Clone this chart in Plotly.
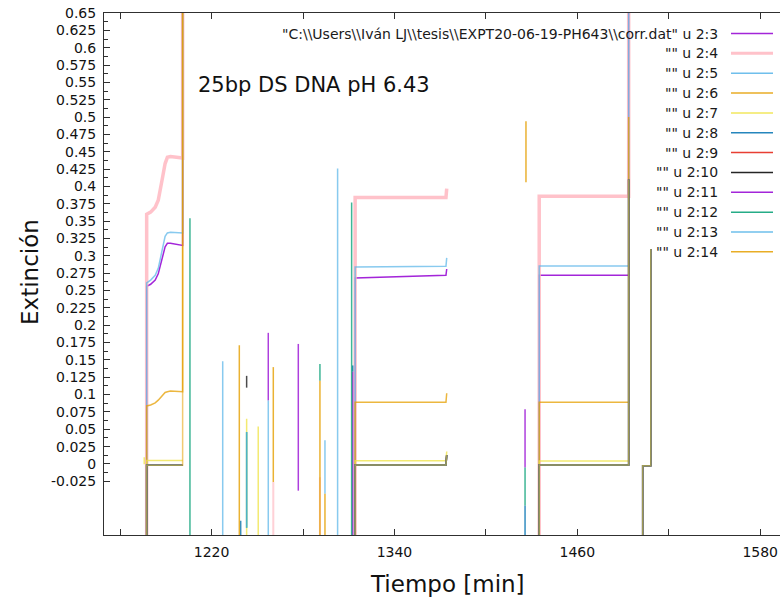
import plotly.graph_objects as go

# ---------------- data ----------------
SERIES = ["2:3", "2:4", "2:5", "2:6", "2:7", "2:8", "2:9", "2:10", "2:11", "2:12", "2:13", "2:14"]
COLORS = ["#9400d3", "#ffb3bd", "#56b4e9", "#e69f00", "#f0e442", "#0072b2",
          "#e51e10", "#000000", "#9400d3", "#009e73", "#56b4e9", "#e69f00"]
LEGEND_FILE = '"C:\\\\Users\\\\Iván LJ\\\\tesis\\\\EXPT20-06-19-PH643\\\\corr.dat" u '

OFF_LOW = -1.0   # values far below the visible range

# block 1 (first measuring window)
T_B1 = [1177.4, 1180.0, 1183.0, 1185.0, 1186.5, 1188.0, 1189.5, 1191.0, 1193.0, 1201.0]
B1_S3 = [0.256, 0.259, 0.265, 0.274, 0.288, 0.303, 0.313, 0.318, 0.318, 0.315]
B1_S4 = [0.360, 0.363, 0.370, 0.380, 0.395, 0.415, 0.433, 0.442, 0.443, 0.441]
B1_S5 = [0.261, 0.265, 0.272, 0.282, 0.298, 0.316, 0.328, 0.333, 0.334, 0.333]
B1_S6 = [0.0836, 0.085, 0.088, 0.092, 0.096, 0.100, 0.103, 0.104, 0.105, 0.104]
B1_REST = [0.005, -0.002, -0.002, -0.002, -0.002, -0.002, -0.002, -0.002]  # 2:7 .. 2:14
B1_JUMP = [1.0, 1.0, 1.0, 1.0, None, None, None, None, None, None, None, 1.0]

# block 2
T_B2 = [1314.2, 1373.8, 1374.3]
B2_START = [0.268, 0.384, 0.284, 0.089, 0.0048] + [-0.0014] * 7
B2_END = [0.272, 0.384, 0.285, 0.089, 0.0048] + [-0.0014] * 7
B2_TICK = [0.281, 0.397, 0.297, 0.102, 0.018] + [0.013] * 7

# block 3
T_B3 = [1435.0, 1493.7]
B3_LEVEL = [0.272, 0.386, 0.2855, 0.089, 0.0043] + [-0.0014] * 7
B3_JUMP = [1.0, 1.0, 1.0, 0.50] + [0.41] * 8

# tail after block 3 (series 2:8 .. 2:14)
T_TAIL = [1502.9, 1508.2]
TAIL_BASE = -0.0025
TAIL_TOP = 0.31

# isolated spikes: series, time, low value, high value
SPIKE_SERIES = ["2:7", "2:12", "2:13", "2:8", "2:14", "2:7", "2:12", "2:13", "2:10",
                "2:7", "2:13", "2:11", "2:4", "2:14", "2:11", "2:4", "2:14", "2:12",
                "2:14", "2:13", "2:13", "2:12", "2:11", "2:8", "2:11", "2:12",
                "2:8", "2:14"]
SPIKE_T = [1175.8, 1205.8, 1227.3, 1239.1, 1238.2, 1243.0, 1243.0, 1243.0, 1243.0,
           1250.6, 1257.2, 1257.2, 1260.5, 1260.5, 1276.9, 1291.1, 1291.1, 1291.1,
           1294.4, 1294.4, 1302.7, 1311.9, 1312.6, 1312.6, 1425.7, 1425.7,
           1425.7, 1426.3]
SPIKE_LO = [-0.0006, -1.0, -1.0, -1.0, -1.0, -1.0, -0.092, -0.092, 0.110,
            -1.0, -1.0, 0.0915, -1.0, -0.026, -0.0385, -1.0, -1.0, 0.120,
            -1.0, -0.043, -1.0, -1.0, -1.0, 0.133, -0.005, -0.06,
            -1.0, 0.406]
SPIKE_HI = [0.0098, 0.354, 0.148, -0.082, 0.171, 0.065, 0.046, 0.046, 0.127,
            0.054, 0.0915, 0.189, -0.026, 0.1396, 0.173, -0.019, 0.120, 0.144,
            -0.043, 0.034, 0.426, 0.377, 0.133, 0.142, 0.079, -0.005,
            -0.06, 0.494]

X_TICKS = [1220, 1340, 1460, 1580]
X_MINOR = [1160, 1280, 1400, 1520]
Y_LABELS = ["-0.025", "0", "0.025", "0.05", "0.075", "0.1", "0.125", "0.15", "0.175",
            "0.2", "0.225", "0.25", "0.275", "0.3", "0.325", "0.35", "0.375", "0.4",
            "0.425", "0.45", "0.475", "0.5", "0.525", "0.55", "0.575", "0.6", "0.625", "0.65"]

# ---------------- styles ----------------
WIDTHS = [1.5, 3.5, 1.5, 1.5, 1.5, 1.5, 1.5, 1.5, 1.5, 1.5, 1.5, 1.5]
BLOCK_OPACITY = [0.85, 0.8, 0.7, 0.75, 0.75, 0.6, 0.6, 0.6, 0.6, 0.6, 0.6, 0.55]
SPIKE_OPACITY = [0.85, 0.6, 0.7, 0.8, 0.75, 0.8, 0.8, 0.7, 0.75, 0.75, 0.7, 0.8]
FONT = "DejaVu Sans"

W, H = 780, 600
L, R, T, B = 104, 0, 13, 65
PW, PH = W - L - R, H - T - B


def px(x):
    return (x - L) / PW


def py(y):
    return (H - B - y) / PH


fig = go.Figure()

# block traces
for i, name in enumerate(SERIES):
    xs, ys = [], []
    if i == 0:
        b1 = B1_S3
    elif i == 1:
        b1 = B1_S4
    elif i == 2:
        b1 = B1_S5
    elif i == 3:
        b1 = B1_S6
    else:
        b1 = [B1_REST[i - 4]] * len(T_B1)
    xs += [T_B1[0]] + T_B1
    ys += [OFF_LOW] + b1
    if B1_JUMP[i] is not None:
        xs += [T_B1[-1]]
        ys += [B1_JUMP[i]]
    xs += [None]
    ys += [None]
    # block 2
    xs += [T_B2[0], T_B2[0], T_B2[1], T_B2[2], None]
    ys += [OFF_LOW, B2_START[i], B2_END[i], B2_TICK[i], None]
    # block 3
    xs += [T_B3[0], T_B3[0], T_B3[1], T_B3[1], None]
    ys += [OFF_LOW, B3_LEVEL[i], B3_LEVEL[i], B3_JUMP[i], None]
    # tail
    if i >= 5:
        xs += [T_TAIL[0], T_TAIL[0], T_TAIL[1], T_TAIL[1], None]
        ys += [OFF_LOW, TAIL_BASE, TAIL_BASE, TAIL_TOP, None]
    fig.add_trace(go.Scatter(x=xs, y=ys, mode="lines", name=name, showlegend=False,
                             opacity=BLOCK_OPACITY[i], hoverinfo="skip",
                             line=dict(color=COLORS[i], width=WIDTHS[i])))

# spike traces
for i, name in enumerate(SERIES):
    xs, ys = [], []
    for s, t, lo, hi in zip(SPIKE_SERIES, SPIKE_T, SPIKE_LO, SPIKE_HI):
        if s == name:
            xs += [t, t, None]
            ys += [lo, hi, None]
    if xs:
        fig.add_trace(go.Scatter(x=xs, y=ys, mode="lines", showlegend=False,
                                 opacity=SPIKE_OPACITY[i], hoverinfo="skip",
                                 line=dict(color=COLORS[i], width=min(WIDTHS[i], 2))))

# manual legend (gnuplot style, text right-aligned, sample on the right)
annotations = []
shapes = []
row0, row_step = 33.5, 19.85
for i, name in enumerate(SERIES):
    label = (LEGEND_FILE if i == 0 else '"" u ') + name
    yy = row0 + i * row_step
    annotations.append(dict(text=label, xref="paper", yref="paper", x=px(720), y=py(yy),
                            xanchor="right", yanchor="middle", showarrow=False,
                            font=dict(family=FONT, size=14, color="#1a1a1a")))
    shapes.append(dict(type="line", xref="paper", yref="paper", x0=px(731), x1=px(773),
                       y0=py(yy), y1=py(yy),
                       line=dict(color=COLORS[i], width=3 if i == 1 else 1.5),
                       opacity=0.8 if i == 1 else 0.85))

annotations.append(dict(text="25bp DS DNA pH 6.43", xref="paper", yref="paper",
                        x=px(196), y=py(85), xanchor="left", yanchor="middle",
                        showarrow=False, font=dict(family=FONT, size=21, color="#111")))
annotations.append(dict(text="Tiempo [min]", xref="paper", yref="paper",
                        x=px(447), y=py(584), xanchor="center", yanchor="middle",
                        showarrow=False, font=dict(family=FONT, size=23, color="#111")))
annotations.append(dict(text="Extinción", xref="paper", yref="paper",
                        x=px(30), y=py(272), xanchor="center", yanchor="middle", textangle=-90,
                        showarrow=False, font=dict(family=FONT, size=23, color="#111")))

fig.update_layout(
    width=W, height=H,
    margin=dict(l=L, r=R, t=T, b=B, pad=0),
    paper_bgcolor="white", plot_bgcolor="white",
    showlegend=False,
    annotations=annotations, shapes=shapes,
    font=dict(family=FONT, size=14, color="#111"),
)
fig.update_xaxes(range=[1149.4, 1593.0], showgrid=False, zeroline=False,
                 showline=True, linecolor="#303030", linewidth=1, mirror="ticks",
                 ticks="inside", ticklen=6, tickcolor="#303030",
                 tickvals=X_TICKS, ticktext=[str(v) for v in X_TICKS],
                 ticklabelstandoff=4,
                 minor=dict(tickvals=X_MINOR, ticks="inside", ticklen=6, tickcolor="#303030"),
                 tickfont=dict(family=FONT, size=14, color="#111"))
y_vals = [float(s) for s in Y_LABELS]
y_minor = [round(v + 0.0125, 4) for v in y_vals[:-1]]
fig.update_yaxes(range=[-0.1024, 0.65], showgrid=False, zeroline=False,
                 showline=True, linecolor="#303030", linewidth=1, mirror=False,
                 ticks="inside", ticklen=6, tickcolor="#303030",
                 tickvals=y_vals, ticktext=Y_LABELS,
                 ticklabelstandoff=4,
                 minor=dict(tickvals=y_minor, ticks="inside", ticklen=4, tickcolor="#303030"),
                 tickfont=dict(family=FONT, size=14, color="#111"))

fig.write_html("out.html")
